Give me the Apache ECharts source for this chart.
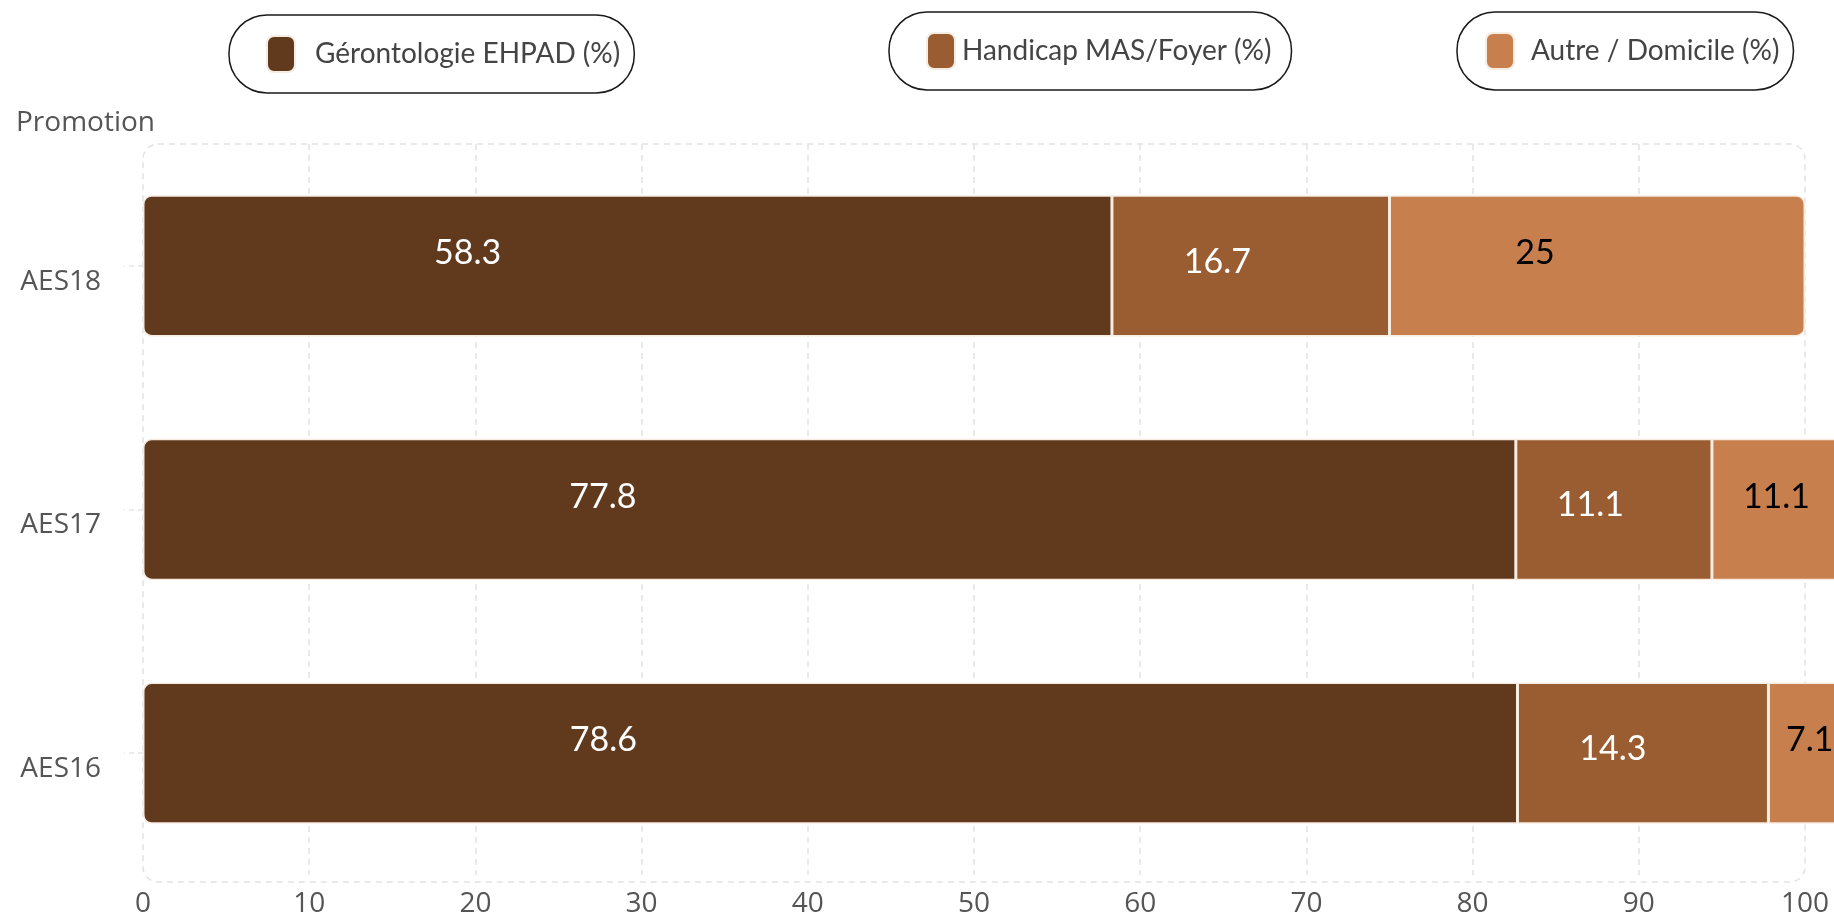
<!DOCTYPE html>
<html>
<head>
<meta charset="utf-8">
<script src="https://cdn.jsdelivr.net/npm/echarts@6/dist/echarts.min.js"></script>
<style>
html,body{margin:0;padding:0;background:#fff;}
#chart{width:1834px;height:918px;}
</style>
</head>
<body>
<div id="chart"></div>
<script>
// ---- data ----
const categories = ['AES18', 'AES17', 'AES16'];
const seriesNames = ['Gérontologie EHPAD (%)', 'Handicap MAS/Foyer (%)', 'Autre / Domicile (%)'];
// bar lengths as drawn in the picture
const gerontoValues = [58.3, 82.6, 82.7];
const handicapValues = [16.7, 11.8, 15.1];
const autreValues = [25, 11.1, 7.1];
// label texts as printed in the picture
const gerontoLabels = ['58.3', '77.8', '78.6'];
const handicapLabels = ['16.7', '11.1', '14.3'];
const autreLabels = ['25', '11.1', '7.1'];
const xTicks = [0, 10, 20, 30, 40, 50, 60, 70, 80, 90, 100];

const colors = ['#613a1e', '#9a5d31', '#c87f4e'];

const G = { left: 143, top: 144, right: 1805, bottom: 882 };
const W = 1834, H = 918;

const chart = echarts.init(document.getElementById('chart'));

function legendBox(name, color, left, top, padding, textPadLeft) {
  return {
    data: [{ name: name, itemStyle: { color: color } }],
    left: left, top: top,
    padding: padding,
    icon: 'roundRect',
    itemWidth: 28, itemHeight: 36,
    borderColor: '#1a1a1a', borderWidth: 1.5, borderRadius: 38,
    selectedMode: false,
    textStyle: { fontFamily: 'Lato', fontSize: 28, color: '#444', padding: [0, 0, 0, textPadLeft] }
  };
}

function barSeries(i, values, labels, radius, labelColor, pos) {
  return {
    name: seriesNames[i],
    type: 'bar',
    stack: 'total',
    barWidth: '58%',
    clip: false,
    data: values,
    itemStyle: { color: colors[i], borderColor: '#f7ece2', borderWidth: 1.5, borderRadius: radius },
    label: {
      show: true,
      position: pos,
      align: 'center',
      verticalAlign: 'middle',
      fontFamily: 'Lato',
      fontSize: 34,
      color: labelColor,
      formatter: p => labels[p.dataIndex]
    },
    emphasis: { disabled: true }
  };
}

chart.setOption({
  animation: false,
  backgroundColor: '#fff',
  title: {
    text: 'Promotion',
    left: 16, top: 109, padding: 0,
    textStyle: { fontFamily: 'Open Sans', fontSize: 28, fontWeight: 'normal', color: '#555' }
  },
  legend: [
    legendBox(seriesNames[0], colors[0], 229, 15, [20, 14, 20, 37], 15),
    legendBox(seriesNames[1], colors[1], 889, 12, [20, 20, 20, 37], 2),
    legendBox(seriesNames[2], colors[2], 1457, 12, [20, 14, 20, 28], 12)
  ],
  grid: { left: G.left, top: G.top, right: W - G.right, bottom: H - G.bottom, containLabel: false },
  xAxis: {
    type: 'value',
    min: xTicks[0], max: xTicks[xTicks.length - 1], interval: 10,
    axisLine: { show: false },
    axisTick: { show: false },
    axisLabel: { fontFamily: 'Open Sans', fontSize: 28, color: '#555', margin: 15,
      formatter: v => xTicks.includes(v) ? String(v) : '' },
    splitLine: { show: true, showMinLine: false, showMaxLine: false,
      lineStyle: { color: '#e2e2e2', type: [6, 5], width: 1.5 } }
  },
  yAxis: {
    type: 'category',
    inverse: true,
    data: categories,
    offset: 16,
    axisLine: { show: false },
    axisTick: { show: true, length: 19, alignWithLabel: true, lineStyle: { color: '#e6e6e6', type: [5, 4], width: 1.5 } },
    axisLabel: { fontFamily: 'Open Sans', fontSize: 28, color: '#555', margin: 26, verticalAlign: 'top', padding: [2, 0, 0, 0] },
    splitLine: { show: false }
  },
  graphic: [{
    type: 'rect',
    z: 0,
    silent: true,
    shape: { x: G.left, y: G.top, width: G.right - G.left, height: G.bottom - G.top, r: 15 },
    style: { fill: 'none', stroke: '#e2e2e2', lineWidth: 1.5, lineDash: [6, 5] }
  }],
  series: [
    barSeries(0, gerontoValues, gerontoLabels, [8, 0, 0, 8], '#fff', ['33.5%', '41%']),
    barSeries(1, handicapValues, handicapLabels, 0, '#fff', ['38%', '47%']),
    barSeries(2, autreValues, autreLabels, [0, 8, 8, 0], '#000', ['35%', '41%'])
  ]
});
</script>
</body>
</html>
